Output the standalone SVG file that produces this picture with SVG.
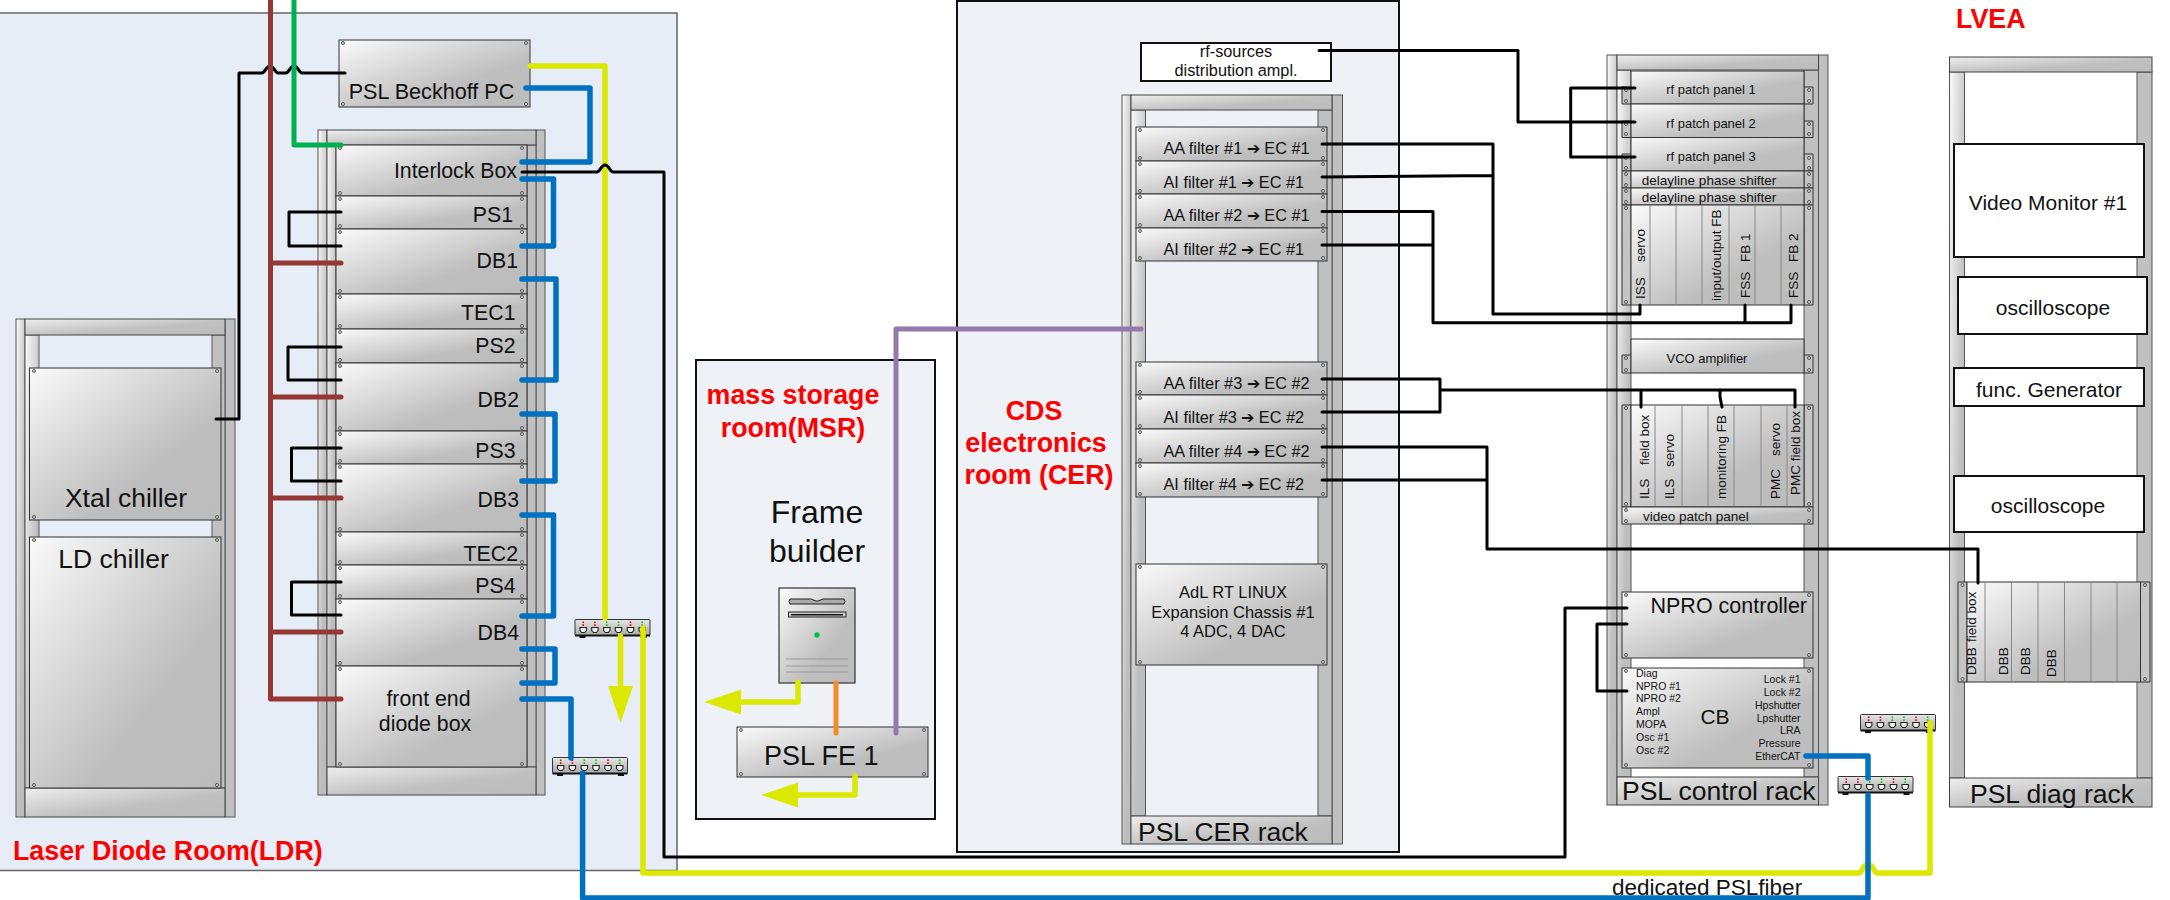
<svg xmlns="http://www.w3.org/2000/svg" width="2170" height="900" viewBox="0 0 2170 900">
<style>
text{font-family:"Liberation Sans",Arial,sans-serif;fill:#111}
.c{text-anchor:middle}.e{text-anchor:end}
.s10{font-size:10.5px;fill:#222}.s13{font-size:13.5px}.s16{font-size:16.300px}.s17{font-size:16.5px}.s20{font-size:21px}.s21{font-size:21.300px}.s26{font-size:26.5px}.s27{font-size:27px}.s32{font-size:32px}
.red{font-size:26.800px;font-weight:bold;fill:#f00}
.room{fill:#eef1f6;stroke:#111;stroke-width:2}
.pn{fill:url(#gp);stroke:#333;stroke-width:1}
.bar{fill:url(#gb);stroke:#444;stroke-width:1}
.pl{fill:url(#gp);stroke:#555;stroke-width:1}
.pr{fill:#c0c0c0;stroke:#555;stroke-width:1}
.fl{fill:#c4c4c4;stroke:#333;stroke-width:1}
.bx{fill:#fff;stroke:#111;stroke-width:2}
.dv{fill:none;stroke:#888;stroke-width:1}
.sc{fill:none;stroke:none;marker:url(#ring)}
.w{fill:none;stroke-linecap:round;stroke-linejoin:round}
.k{stroke:#000;stroke-width:3}.bl{stroke:#0070c0;stroke-width:5.500}.ye{stroke:#dbe800;stroke-width:5.500}
.br{stroke:#953735;stroke-width:5}.gr{stroke:#00b050;stroke-width:5}.pu{stroke:#9479ad;stroke-width:5}.or{stroke:#f68b2c;stroke-width:5}
</style>
<defs>
<linearGradient id="gp" x1="0" y1="0" x2="1" y2="1"><stop offset="0" stop-color="#fafafa"/><stop offset=".65" stop-color="#bebebe"/><stop offset="1" stop-color="#bcbcbc"/></linearGradient>
<linearGradient id="gb" x1="0" y1="0" x2="1" y2="1"><stop offset="0" stop-color="#eee"/><stop offset=".6" stop-color="#bfbfbf"/><stop offset="1" stop-color="#bcbcbc"/></linearGradient>
<linearGradient id="gs" x1="0" y1="0" x2="0" y2="1"><stop offset="0" stop-color="#e6e6e6"/><stop offset="1" stop-color="#a8a8a8"/></linearGradient>
<marker id="ring" markerUnits="userSpaceOnUse" viewBox="-3 -3 6 6" markerWidth="6" markerHeight="6" refX="0" refY="0"><circle r="1.5" fill="#ddd" stroke="#333" stroke-width=".8"/></marker>
<marker id="ah" markerUnits="userSpaceOnUse" viewBox="0 -13 37 26" markerWidth="37" markerHeight="26" refX="0" refY="0" orient="auto"><path d="M0-12.5 37 0 0 12.5Z" fill="#dbe800"/></marker>
<g id="port"><path d="M-3.2 8.5H3.2V11.5L1.5 13.5H-1.5L-3.2 11.5Z" fill="#eee" stroke="#222" stroke-width="1.1"/></g>
<g id="sw">
<path d="M5 16H11V19H5ZM66 16H72V19H66Z" fill="#111"/>
<rect x=".5" y=".5" width="75" height="16" rx="1" fill="url(#gs)" stroke="#333"/>
<path d="M.5 16.5H75.5" stroke="#111" stroke-width="2"/>
<path d="M8.7 2.5V7M20.4 2.5V7M56 2.5V7" stroke="#e00" stroke-width="1.6" stroke-dasharray="1.6 1.2"/>
<path d="M32.3 2.5V7M44 2.5V7M67.7 2.5V7" stroke="#0c0" stroke-width="1.6" stroke-dasharray="1.6 1.2"/>
<use href="#port" x="8.7"/><use href="#port" x="20.4"/><use href="#port" x="32.3"/><use href="#port" x="44"/><use href="#port" x="56"/><use href="#port" x="67.7"/>
</g>
</defs>
<rect width="2170" height="900" fill="#fff"/>

<g id="room-ldr"><path d="M0 13H677V870.500H0" fill="#e6edf7" stroke="#666" stroke-width="1.5"/>
<text class="red" x="13" y="860">Laser Diode Room(LDR)</text></g>
<g id="room-msr"><rect class="room" x="696" y="360" width="239" height="459"/>
<text class="red c" x="793" y="404">mass storage</text><text class="red c" x="793" y="437">room(MSR)</text></g>
<g id="room-cer"><rect class="room" x="957" y="1" width="442" height="851"/>
<text class="red c" x="1034" y="420">CDS</text><text class="red c" x="1036" y="452">electronics</text><text class="red c" x="1039" y="484">room (CER)</text></g>
<g id="label-lvea"><text class="red" x="1956" y="28">LVEA</text></g>

<g id="rack-chiller">
<rect class="pl" x="16" y="319" width="9" height="498"/><rect class="pr" x="225" y="319" width="10" height="498"/>
<rect class="pl" x="25" y="335" width="14" height="453"/><rect class="pr" x="212" y="335" width="13" height="453"/>
<rect class="bar" x="25" y="319" width="200" height="16"/><rect class="bar" x="25" y="788" width="200" height="29"/>
</g>
<g id="xtal-chiller"><rect class="pn" x="29.500" y="368" width="191.500" height="152"/>
<path class="sc" d="M34 371V517M217 371V517"/><text class="s26 c" x="126" y="507">Xtal chiller</text></g>
<g id="ld-chiller"><rect class="pn" x="29.500" y="537" width="191.500" height="251"/>
<path class="sc" d="M34 540V785M217 540V785"/><text class="s26 c" x="113.500" y="568">LD chiller</text></g>

<g id="beckhoff-pc"><rect class="pn" x="339" y="40" width="191" height="67"/>
<path class="sc" d="M343 43V104M526 43V104"/><text class="s21 c" style="font-size:21.600px" x="431.500" y="99">PSL Beckhoff PC</text></g>

<g id="rack-ldr">
<rect class="pl" x="318" y="130" width="9" height="665"/><rect class="pr" x="536" y="130" width="9" height="665"/>
<rect class="pl" x="327" y="145" width="9" height="622"/><rect class="pr" x="527" y="145" width="9" height="622"/>
<rect class="bar" x="327" y="130" width="209" height="15"/><rect class="bar" x="327" y="767" width="209" height="28"/>
</g>
<g id="interlock-box"><rect class="pn" x="336" y="145" width="191" height="51"/><path class="sc" d="M340 148V193M522 148V193"/><text class="s21 e" x="517" y="178">Interlock Box</text></g>
<g id="ps1"><rect class="pn" x="336" y="196" width="191" height="33"/><path class="sc" d="M340 199V226M522 199V226"/><text class="s21 e" x="513" y="222">PS1</text></g>
<g id="db1"><rect class="pn" x="336" y="229" width="191" height="65"/><path class="sc" d="M340 232V291M522 232V291"/><text class="s21 e" x="518" y="268">DB1</text></g>
<g id="tec1"><rect class="pn" x="336" y="294" width="191" height="35"/><path class="sc" d="M340 297V326M522 297V326"/><text class="s21 e" x="515.500" y="320">TEC1</text></g>
<g id="ps2"><rect class="pn" x="336" y="329" width="191" height="34"/><path class="sc" d="M340 332V360M522 332V360"/><text class="s21 e" x="515.500" y="353">PS2</text></g>
<g id="db2"><rect class="pn" x="336" y="363" width="191" height="68"/><path class="sc" d="M340 366V428M522 366V428"/><text class="s21 e" x="519" y="407">DB2</text></g>
<g id="ps3"><rect class="pn" x="336" y="431" width="191" height="33"/><path class="sc" d="M340 434V461M522 434V461"/><text class="s21 e" x="515.500" y="458">PS3</text></g>
<g id="db3"><rect class="pn" x="336" y="464" width="191" height="68"/><path class="sc" d="M340 467V529M522 467V529"/><text class="s21 e" x="519" y="507">DB3</text></g>
<g id="tec2"><rect class="pn" x="336" y="532" width="191" height="33"/><path class="sc" d="M340 535V562M522 535V562"/><text class="s21 e" x="518" y="561">TEC2</text></g>
<g id="ps4"><rect class="pn" x="336" y="565" width="191" height="34"/><path class="sc" d="M340 568V596M522 568V596"/><text class="s21 e" x="515.500" y="593">PS4</text></g>
<g id="db4"><rect class="pn" x="336" y="599" width="191" height="67"/><path class="sc" d="M340 602V663M522 602V663"/><text class="s21 e" x="519" y="640">DB4</text></g>
<g id="front-end-diode-box"><rect class="pn" x="336" y="666" width="191" height="101"/><path class="sc" d="M340 669V764M522 669V764"/>
<text class="s21 c" x="428.500" y="706">front end</text><text class="s21 c" x="425" y="731">diode box</text></g>

<g id="switch-1"><use href="#sw" x="574.500" y="619"/></g>
<g id="switch-2"><use href="#sw" x="552" y="757"/></g>
<g id="switch-3"><use href="#sw" x="1837.500" y="776"/></g>
<g id="switch-4"><use href="#sw" x="1860" y="714"/></g>

<g id="frame-builder"><text class="s32 c" x="817" y="523">Frame</text><text class="s32 c" x="817" y="562">builder</text>
<rect x="779" y="588" width="76" height="95" fill="url(#gp)" stroke="#333" stroke-width="1.2"/>
<path d="M790 599H811L816 601H818L823 599H844Q846 601.500 844 604H790Q788 601.500 790 599Z" fill="#aaa" stroke="#222"/>
<rect x="788.500" y="612" width="57.500" height="5" fill="#ccc" stroke="#222"/><rect x="791" y="614" width="52" height="1.500" fill="#111"/>
<circle cx="817" cy="635" r="2.700" fill="#00c040"/>
<path d="M786 659H848M786 666H848M786 672H848" stroke="#999" fill="none"/></g>
<g id="psl-fe-1"><rect class="pn" x="737" y="727" width="191" height="50"/><path class="sc" d="M741 730V774M924 730V774"/><text class="s27" x="764" y="765">PSL FE 1</text></g>

<g id="rf-sources"><rect class="bx" x="1141" y="43" width="190" height="38"/>
<text class="s16 c" x="1236" y="57">rf-sources</text><text class="s16 c" x="1236" y="76">distribution ampl.</text></g>

<g id="rack-cer">
<rect class="pl" x="1122" y="95" width="9" height="749"/><rect class="pr" x="1332" y="95" width="10.500" height="749"/>
<rect class="pl" x="1131" y="110" width="14.500" height="706"/><rect class="pr" x="1318" y="110" width="14" height="706"/>
<rect class="bar" x="1131" y="95" width="201" height="15"/><rect class="bar" x="1131" y="816" width="201" height="28"/>
<text class="s26" x="1138" y="841">PSL CER rack</text></g>
<g id="aa1"><rect class="pn" x="1136" y="127" width="191" height="34"/><path class="sc" d="M1140 130V158M1323 130V158"/><text class="s16" x="1163.500" y="154">AA filter #1 ➔ EC #1</text></g>
<g id="ai1"><rect class="pn" x="1136" y="161" width="191" height="33"/><path class="sc" d="M1140 164V191M1323 164V191"/><text class="s16" x="1163.500" y="188">AI filter #1 ➔ EC #1</text></g>
<g id="aa2"><rect class="pn" x="1136" y="194" width="191" height="34"/><path class="sc" d="M1140 197V225M1323 197V225"/><text class="s16" x="1163.500" y="221">AA filter #2 ➔ EC #1</text></g>
<g id="ai2"><rect class="pn" x="1136" y="228" width="191" height="33"/><path class="sc" d="M1140 231V258M1323 231V258"/><text class="s16" x="1163.500" y="255">AI filter #2 ➔ EC #1</text></g>
<g id="aa3"><rect class="pn" x="1136" y="362" width="191" height="33"/><path class="sc" d="M1140 365V392M1323 365V392"/><text class="s16" x="1163.500" y="389">AA filter #3 ➔ EC #2</text></g>
<g id="ai3"><rect class="pn" x="1136" y="395" width="191" height="34"/><path class="sc" d="M1140 398V426M1323 398V426"/><text class="s16" x="1163.500" y="423">AI filter #3 ➔ EC #2</text></g>
<g id="aa4"><rect class="pn" x="1136" y="429" width="191" height="34"/><path class="sc" d="M1140 432V460M1323 432V460"/><text class="s16" x="1163.500" y="457">AA filter #4 ➔ EC #2</text></g>
<g id="ai4"><rect class="pn" x="1136" y="463" width="191" height="34"/><path class="sc" d="M1140 466V494M1323 466V494"/><text class="s16" x="1163.500" y="490">AI filter #4 ➔ EC #2</text></g>
<g id="expansion-chassis"><rect class="pn" x="1136" y="564" width="191" height="101"/><path class="sc" d="M1140 567V662M1323 567V662"/>
<text class="s17 c" x="1233" y="598">AdL RT LINUX</text><text class="s17 c" x="1233" y="618">Expansion Chassis #1</text><text class="s17 c" x="1233" y="637">4 ADC, 4 DAC</text></g>

<g id="rack-control">
<rect class="pl" x="1607" y="55" width="10" height="750"/><rect class="pr" x="1818.500" y="55" width="9.500" height="750"/>
<rect class="pl" x="1617" y="70" width="14" height="707"/><rect class="pr" x="1804" y="70" width="14.500" height="707"/>
<rect class="bar" x="1617" y="55" width="201.500" height="15"/><rect class="bar" x="1617" y="777" width="201.500" height="28"/>
<text class="s26" x="1622" y="800">PSL control rack</text></g>
<g id="rf-patch-1"><path class="fl" d="M1622 87H1631V104H1622ZM1804 87H1813V104H1804Z"/><rect class="pn" x="1631" y="71" width="173" height="33"/><path class="sc" d="M1626 90V101M1809 90V101"/><text class="s13 c" style="font-size:13px" x="1711" y="94">rf patch panel 1</text></g>
<g id="rf-patch-2"><path class="fl" d="M1622 121H1631V137.500H1622ZM1804 121H1813V137.500H1804Z"/><rect class="pn" x="1631" y="104" width="173" height="33.500"/><path class="sc" d="M1626 124V134M1809 124V134"/><text class="s13 c" style="font-size:13px" x="1711" y="128">rf patch panel 2</text></g>
<g id="rf-patch-3"><path class="fl" d="M1622 154H1631V171H1622ZM1804 154H1813V171H1804Z"/><rect class="pn" x="1631" y="137.500" width="173" height="33.500"/><path class="sc" d="M1626 158V168M1809 158V168"/><text class="s13 c" style="font-size:13px" x="1711" y="161">rf patch panel 3</text></g>
<g id="delayline-1"><path class="fl" d="M1622 171H1631V188H1622ZM1804 171H1813V188H1804Z"/><rect class="pn" x="1631" y="171" width="173" height="17"/><path class="sc" d="M1626 174V185M1809 174V185"/><text class="s13 c" x="1709" y="185">delayline phase shifter</text></g>
<g id="delayline-2"><path class="fl" d="M1622 188H1631V205H1622ZM1804 188H1813V205H1804Z"/><rect class="pn" x="1631" y="188" width="173" height="17"/><path class="sc" d="M1626 191V202M1809 191V202"/><text class="s13 c" x="1709" y="202">delayline phase shifter</text></g>
<g id="crate-1"><path class="fl" d="M1622 205H1631V305H1622ZM1804 205H1813V305H1804Z"/><rect class="pn" x="1631" y="205" width="173" height="100"/>
<path class="dv" d="M1650 205V305M1676 205V305M1702 205V305M1729 205V305M1755 205V305M1781 205V305"/><path class="sc" d="M1626 208V302M1809 208V302"/>
<g class="s13">
<text transform="rotate(-90 1645 299)" x="1645" y="299">ISS</text><text transform="rotate(-90 1645 262)" x="1645" y="262">servo</text>
<text transform="rotate(-90 1721 301)" x="1721" y="301">input/output FB</text>
<text transform="rotate(-90 1750 298)" x="1750" y="298">FSS</text><text transform="rotate(-90 1750 262)" x="1750" y="262">FB 1</text>
<text transform="rotate(-90 1798 298)" x="1798" y="298">FSS</text><text transform="rotate(-90 1798 262)" x="1798" y="262">FB 2</text></g></g>
<g id="vco-amplifier"><path class="fl" d="M1622 355H1631V373H1622ZM1804 355H1813V373H1804Z"/><rect class="pn" x="1631" y="339" width="173" height="34"/><path class="sc" d="M1626 358V370M1809 358V370"/><text class="s13 c" style="font-size:13px" x="1707" y="363">VCO amplifier</text></g>
<g id="crate-2"><path class="fl" d="M1622 405H1631V507H1622ZM1804 405H1813V507H1804Z"/><rect class="pn" x="1631" y="405" width="173" height="102"/>
<path class="dv" d="M1655 405V507M1682 405V507M1708 405V507M1734 405V507M1761 405V507M1787 405V507"/><path class="sc" d="M1626 408V504M1809 408V504"/>
<g class="s13">
<text transform="rotate(-90 1649 499)" x="1649" y="499">ILS</text><text transform="rotate(-90 1649 465)" x="1649" y="465">field box</text>
<text transform="rotate(-90 1674 499)" x="1674" y="499">ILS</text><text transform="rotate(-90 1674 467)" x="1674" y="467">servo</text>
<text transform="rotate(-90 1726 499)" x="1726" y="499">monitoring FB</text>
<text transform="rotate(-90 1780 499)" x="1780" y="499">PMC</text><text transform="rotate(-90 1780 456)" x="1780" y="456">servo</text>
<text transform="rotate(-90 1800 495)" x="1800" y="495">PMC field box</text></g></g>
<g id="video-patch-panel"><rect class="pn" x="1622" y="507" width="191" height="17"/><path class="sc" d="M1626 510V521M1809 510V521"/><text class="s13" x="1643" y="521">video patch panel</text></g>
<g id="npro-controller"><rect class="pn" x="1622" y="592" width="191" height="66"/><path class="sc" d="M1626 595V655M1809 595V655"/><text class="s21" style="font-size:21.500px" x="1650.500" y="613">NPRO controller</text></g>
<g id="cb"><rect class="pn" x="1622" y="668" width="191" height="100"/><path class="sc" d="M1626 671V765M1809 671V765"/>
<text class="s20 c" x="1715" y="724">CB</text>
<g class="s10"><text x="1636" y="677">Diag</text><text x="1636" y="690">NPRO #1</text><text x="1636" y="702">NPRO #2</text><text x="1636" y="715">Ampl</text><text x="1636" y="728">MOPA</text><text x="1636" y="741">Osc #1</text><text x="1636" y="754">Osc #2</text></g>
<g class="s10 e"><text x="1800.500" y="683">Lock #1</text><text x="1800.500" y="696">Lock #2</text><text x="1800.500" y="709">Hpshutter</text><text x="1800.500" y="722">Lpshutter</text><text x="1800.500" y="734">LRA</text><text x="1800.500" y="747">Pressure</text><text x="1800.500" y="760">EtherCAT</text></g></g>

<g id="rack-diag">
<rect class="pl" x="1949.500" y="72" width="15" height="706"/><rect class="pr" x="2137" y="72" width="15" height="706"/>
<rect class="bar" x="1949.500" y="57" width="202.500" height="15"/><rect class="bar" x="1949.500" y="778" width="202.500" height="29"/>
<text class="s26" x="1970" y="803">PSL diag rack</text></g>
<g id="video-monitor"><rect class="bx" x="1954" y="144" width="190" height="113"/><text class="s20 c" x="2048" y="210">Video Monitor #1</text></g>
<g id="oscilloscope-1"><rect class="bx" x="1958" y="277" width="189" height="57"/><text class="s20 c" x="2053" y="315">oscilloscope</text></g>
<g id="func-generator"><rect class="bx" x="1954" y="368" width="190" height="38"/><text class="s20 c" x="2049" y="397">func. Generator</text></g>
<g id="oscilloscope-2"><rect class="bx" x="1954" y="476" width="190" height="56"/><text class="s20 c" x="2048" y="513">oscilloscope</text></g>
<g id="dbb-crate"><path class="fl" d="M1958 582H1967V682H1958ZM2140.500 582H2150V682H2140.500Z"/><rect class="pn" x="1967" y="582" width="173.500" height="100"/>
<path class="dv" d="M1985 582V682M2011.500 582V682M2038 582V682M2064.500 582V682M2091 582V682M2117 582V682"/><path class="sc" d="M1962.500 585V679M2145 585V679"/>
<g class="s13">
<text transform="rotate(-90 1976 675)" x="1976" y="675">DBB</text><text transform="rotate(-90 1976 642)" x="1976" y="642">field box</text>
<text transform="rotate(-90 2007.500 675)" x="2007.500" y="675">DBB</text><text transform="rotate(-90 2030 675)" x="2030" y="675">DBB</text><text transform="rotate(-90 2056 677)" x="2056" y="677">DBB</text></g></g>

<g id="connectors">
<path class="w k" d="M216 419H239V73H262C265 73 266 66 270 66C274 66 275 73 278 73H286C289 73 290 66 294 66C298 66 299 73 302 73H345"/>
<path class="w k" d="M341 212H289V246H341M341 347H288V380H341M341 448H291.500V481H341M341 582H291.500V615H341"/>
<path class="w gr" d="M294 0V145H341"/>
<path class="w br" d="M270.500 0V699H341M270.500 263H341M270.500 397H341M270.500 498H341M270.500 632H341"/>
<path class="w ye" d="M530 66H605V618"/>
<path class="w bl" d="M526 88H590V162H522M522 179H553.500V246H522M522 279H556V380H522M522 414H555V481H522M522 515H553.500V616H522M522 649H555V683H522M522 699H571V758"/>
<path class="w k" d="M522 172H597C600 172 601 165 605 165C609 165 610 172 613 172H664V857H1565V608H1627M1627 624H1597V691H1627"/>
<path class="w ye" d="M620.500 636V686" marker-end="url(#ah)"/>
<path class="w ye" d="M643 628V873H1859C1862 873 1863 864 1868 864C1873 864 1874 873 1877 873H1930V723"/>
<path class="w bl" d="M582.600 773V898H1868V795M1806 756H1868V778"/>
<path class="w pu" d="M1141 329H896V733"/>
<path class="w or" d="M836 683V733"/>
<path class="w ye" d="M798 682V702H741" marker-end="url(#ah)"/>
<path class="w ye" d="M855 776V795H798" marker-end="url(#ah)"/>
<path class="w k" d="M1319 50.500H1518V122H1635M1635 88H1570.700V157H1635"/>
<path class="w k" d="M1322 144H1493V314H1640V305M1322 177L1493 175.500"/>
<path class="w k" d="M1322 211.500H1433V322.700H1791V305M1322 245H1433M1745 305V322.700"/>
<path class="w k" d="M1322 379H1440V412H1322M1440 390H1795V407M1641 390V407M1720 390V397L1722 407"/>
<path class="w k" d="M1322 447H1487V549H1978V583M1322 480H1487"/>
</g>
<g id="label-fiber"><text class="s21" style="font-size:22.500px" x="1612" y="895">dedicated PSLfiber</text></g>
</svg>
